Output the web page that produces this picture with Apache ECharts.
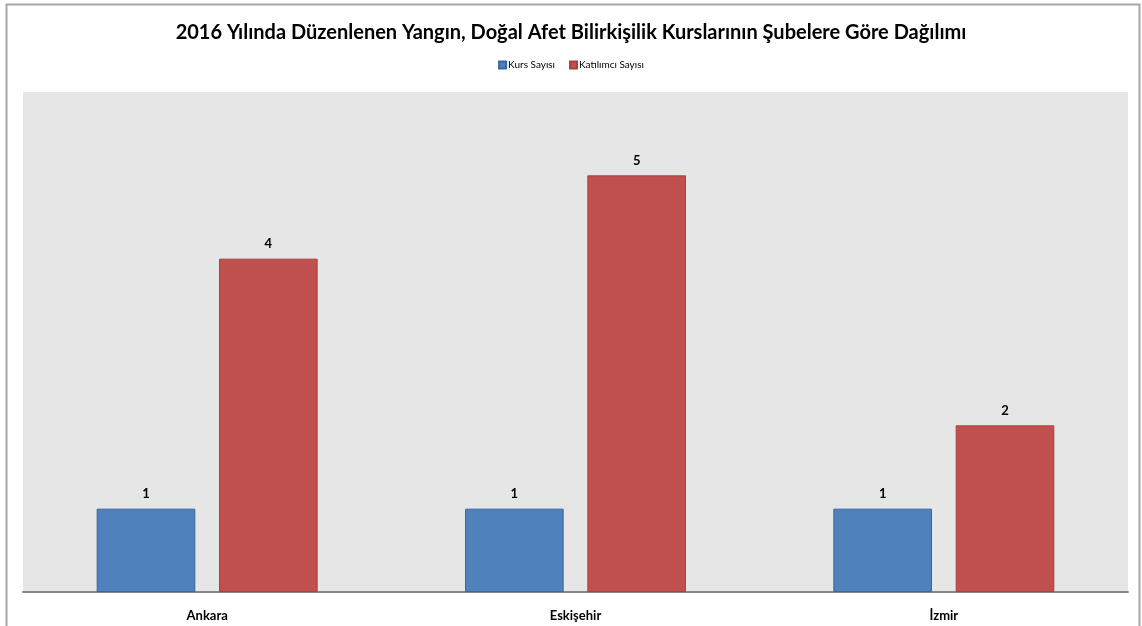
<!DOCTYPE html>
<html><head><meta charset="utf-8">
<script src="https://cdn.jsdelivr.net/npm/echarts@6/dist/echarts.min.js"></script>
<style>html,body{margin:0;padding:0;background:#fff}#c{width:1142px;height:626px}</style>
</head><body><div id="c"></div>
<script>
const categories = ['Ankara', 'Eskişehir', 'İzmir'];
const kursSayisi = [1, 1, 1];
const katilimciSayisi = [4, 5, 2];
const seriesNames = ['Kurs Sayısı', 'Katılımcı Sayısı'];
const titleText = '2016 Yılında Düzenlenen Yangın, Doğal Afet Bilirkişilik Kurslarının Şubelere Göre Dağılımı';

const FONT = 'Lato, "Open Sans", sans-serif';
const chart = echarts.init(document.getElementById('c'), null, {renderer: 'canvas'});
const labelStyle = {show: true, position: 'top', distance: 8, fontFamily: FONT, fontWeight: 'bold', fontSize: 13, color: '#000'};
chart.setOption({
  animation: false,
  backgroundColor: '#fff',
  title: {text: titleText, left: 'center', top: 18, textStyle: {fontFamily: FONT, fontWeight: 'bold', fontSize: 20, color: '#000'}},
  legend: {top: 55, left: 'center', itemWidth: 7, itemHeight: 7, itemGap: 14, icon: 'rect',
    textStyle: {fontFamily: FONT, fontSize: 10, color: '#000', padding: [0,0,0,-3]}, data: seriesNames},
  grid: {left: 23, right: 14, top: 92, bottom: 34, containLabel: false, show: true, backgroundColor: '#e6e6e6', borderWidth: 0},
  xAxis: {type: 'category', data: categories,
    axisLine: {lineStyle: {color: '#868686', width: 2}}, axisTick: {show: false},
    axisLabel: {fontFamily: FONT, fontWeight: 'bold', fontSize: 13, color: '#000', margin: 17}},
  yAxis: {type: 'value', min: 0, max: 6, interval: 1, show: false, splitLine: {show: false}},
  graphic: [{type: 'rect', shape: {x: 6.5, y: 4.5, width: 1133, height: 640}, style: {fill: 'none', stroke: '#a6a6a6', lineWidth: 2}, silent: true, z: 100}],
  series: [
    {name: seriesNames[0], type: 'bar', data: kursSayisi, barGap: '24%', barCategoryGap: '40%',
     itemStyle: {color: '#4f81bd', borderColor: '#3c6797', borderWidth: 1}, label: labelStyle},
    {name: seriesNames[1], type: 'bar', data: katilimciSayisi,
     itemStyle: {color: '#c0504d', borderColor: '#a8423f', borderWidth: 1}, label: labelStyle}
  ]
});
</script></body></html>
